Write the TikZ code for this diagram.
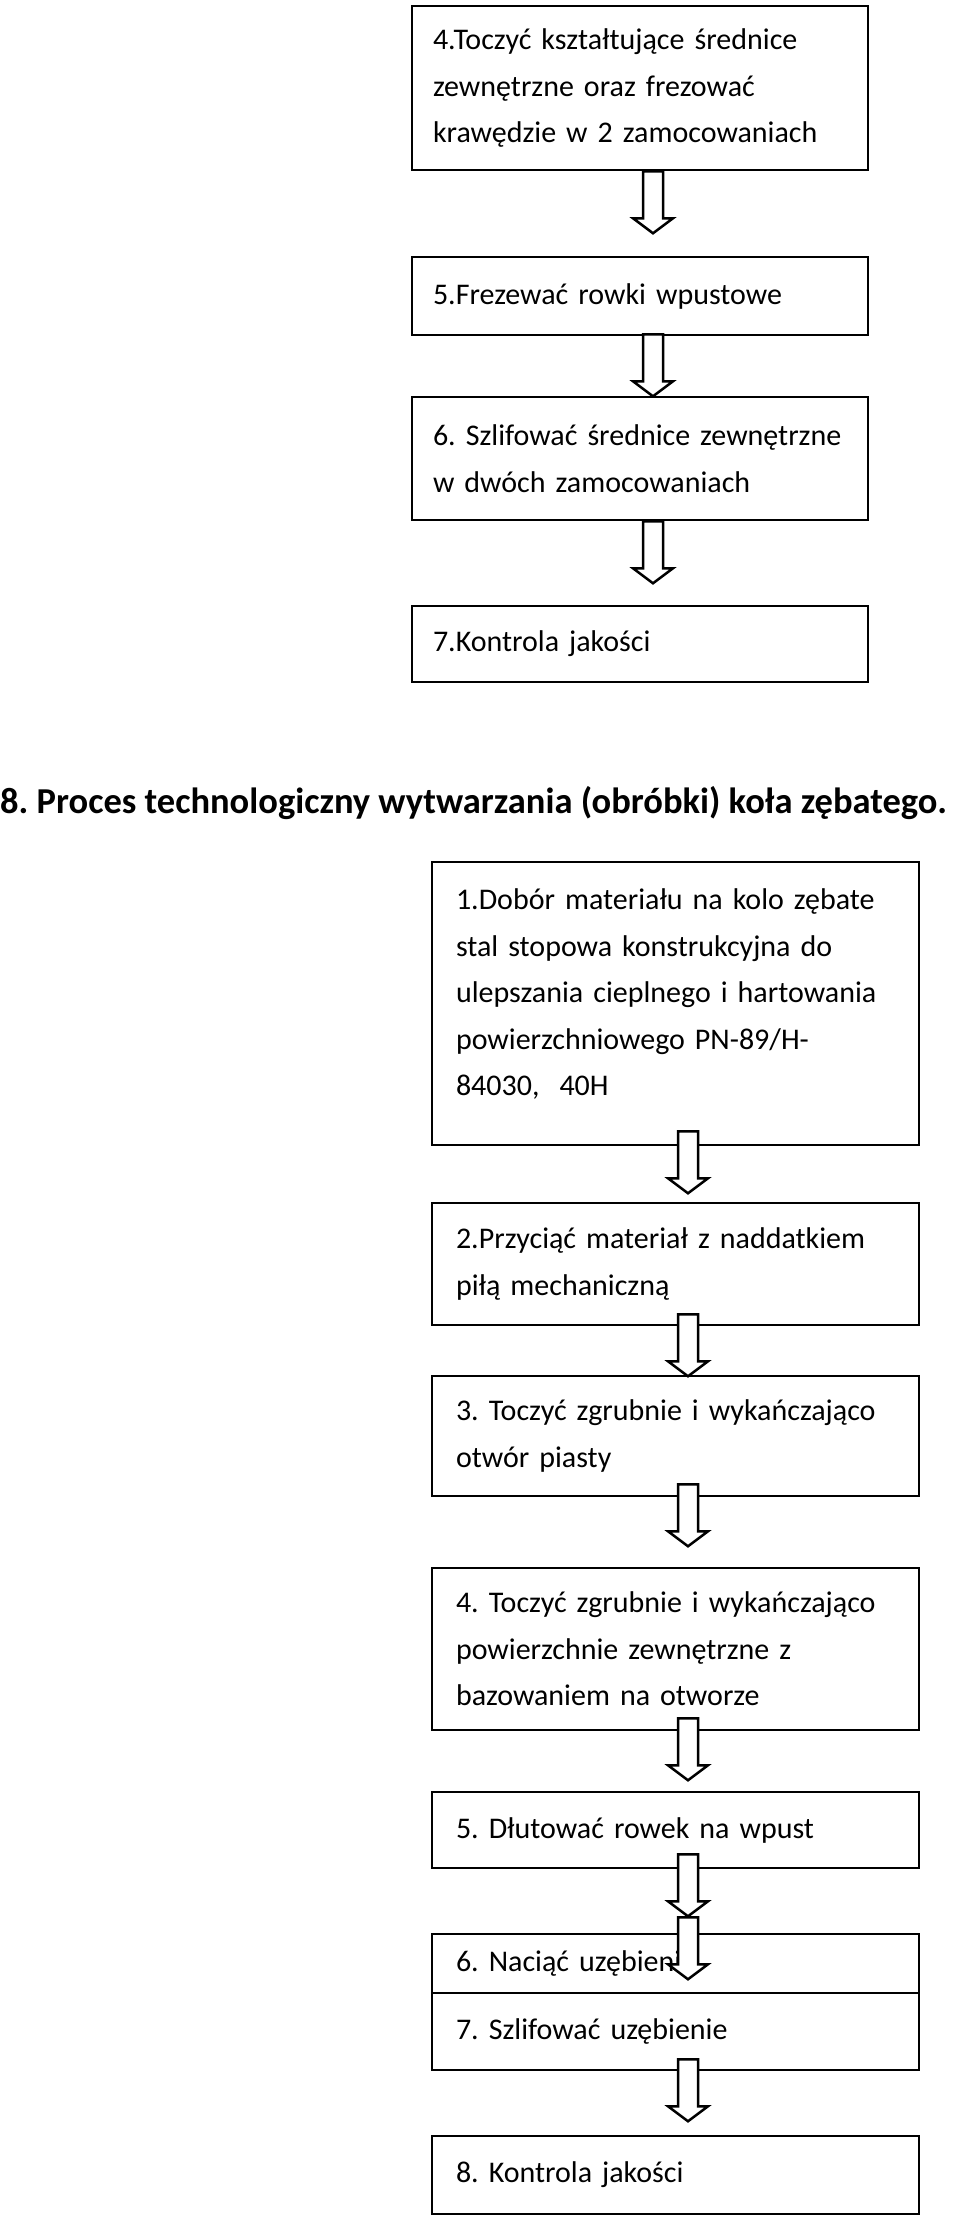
\documentclass[tikz,border=0pt]{standalone}
\usepackage{fontspec}
\setmainfont{Carlito}
\frenchspacing

\tikzset{
  opbox/.style={draw, line width=2.5pt, rectangle, inner xsep=0pt, inner ysep=0pt,
    align=left, font=\fontsize{30}{46.5}\selectfont},
  walbox/.style={opbox, minimum width=456pt, text width=414pt},
  kolobox/.style={opbox, minimum width=487pt, text width=439pt},
  blockarr/.style={draw, fill=white, line width=2.5pt, line join=miter}
}
% hollow block arrow pointing down, #1 = middle of its top edge
\newcommand{\flowarrow}[1]{%
  \draw[blockarr] (#1) -- ++(-10,0) -- ++(0,47) -- ++(-10,0) -- ++(20,15)
    -- ++(20,-15) -- ++(-10,0) -- ++(0,-47) -- cycle;}

\begin{document}
\begin{tikzpicture}[x=1pt, y=-1pt]
        \useasboundingbox (0,0) rectangle (960,2217);

        % upper chain
        \node[walbox, minimum height=164pt] (wal4) at (640,88)
          {4.Toczyć kształtujące średnice\\ zewnętrzne oraz frezować\\ krawędzie w 2 zamocowaniach};
        \node[walbox, minimum height=78pt] (wal5) at (640,296) {5.Frezewać rowki wpustowe};
        \node[walbox, minimum height=123pt] (wal6) at (640,458.5)
          {6. Szlifować średnice zewnętrzne\\ w dwóch zamocowaniach};
        \node[walbox, minimum height=76pt] (wal7) at (640,644) {7.Kontrola jakości};

        \coordinate (a1) at ([xshift=13pt]wal4.south);
        \coordinate (a2) at ([xshift=13pt, yshift=2pt]wal5.south);
        \coordinate (a3) at ([xshift=13pt]wal6.south);
        \flowarrow{a1}
        \flowarrow{a2}
        \flowarrow{a3}

        \node[anchor=base west, inner sep=0pt, font=\fontsize{36.5}{40}\selectfont\bfseries] (tytul) at (0,813)
          {8. Proces technologiczny wytwarzania (obróbki) koła zębatego.};

        % lower chain
        \node[kolobox, minimum height=283pt] (kolo1) at (675.5,1003.5)
          {1.Dobór materiału na kolo zębate\\ stal stopowa konstrukcyjna do\\ ulepszania cieplnego i hartowania\\ powierzchniowego PN-89/H-\\ 84030,~ 40H\\[-24pt]\mbox{}};
        \node[kolobox, minimum height=122pt] (kolo2) at (675.5,1264)
          {2.Przyciąć materiał z naddatkiem\\ piłą mechaniczną};
        \node[kolobox, minimum height=120pt] (kolo3) at (675.5,1436)
          {3. Toczyć zgrubnie i wykańczająco\\ otwór piasty};
        \node[kolobox, minimum height=162pt] (kolo4) at (675.5,1649)
          {4. Toczyć zgrubnie i wykańczająco\\ powierzchnie zewnętrzne z\\ bazowaniem na otworze};
        \node[kolobox, minimum height=76pt] (kolo5) at (675.5,1830) {5. Dłutować rowek na wpust};
        \node[kolobox, minimum height=59pt] (kolo6) at (675.5,1963.5) {6. Naciąć uzębienie};
        \node[kolobox, minimum height=77pt] (kolo7) at (675.5,2031.5) {7. Szlifować uzębienie};
        \node[kolobox, minimum height=78pt] (kolo8) at (675.5,2175) {8. Kontrola jakości};

        \coordinate (b1) at ([xshift=12.5pt, yshift=15pt]kolo1.south);
        \coordinate (b2) at ([xshift=12.5pt, yshift=12pt]kolo2.south);
        \coordinate (b3) at ([xshift=12.5pt, yshift=13pt]kolo3.south);
        \coordinate (b4) at ([xshift=12.5pt, yshift=13pt]kolo4.south);
        \coordinate (b5) at ([xshift=12.5pt, yshift=15pt]kolo5.south);
        \coordinate (b6) at ([xshift=12.5pt, yshift=-48pt]kolo5.south);
        \coordinate (b7) at ([xshift=12.5pt, yshift=12pt]kolo7.south);
        \flowarrow{b1}
        \flowarrow{b2}
        \flowarrow{b3}
        \flowarrow{b4}
        \flowarrow{b5}
        \flowarrow{b6}
        \flowarrow{b7}
    \end{tikzpicture}
\end{document}
